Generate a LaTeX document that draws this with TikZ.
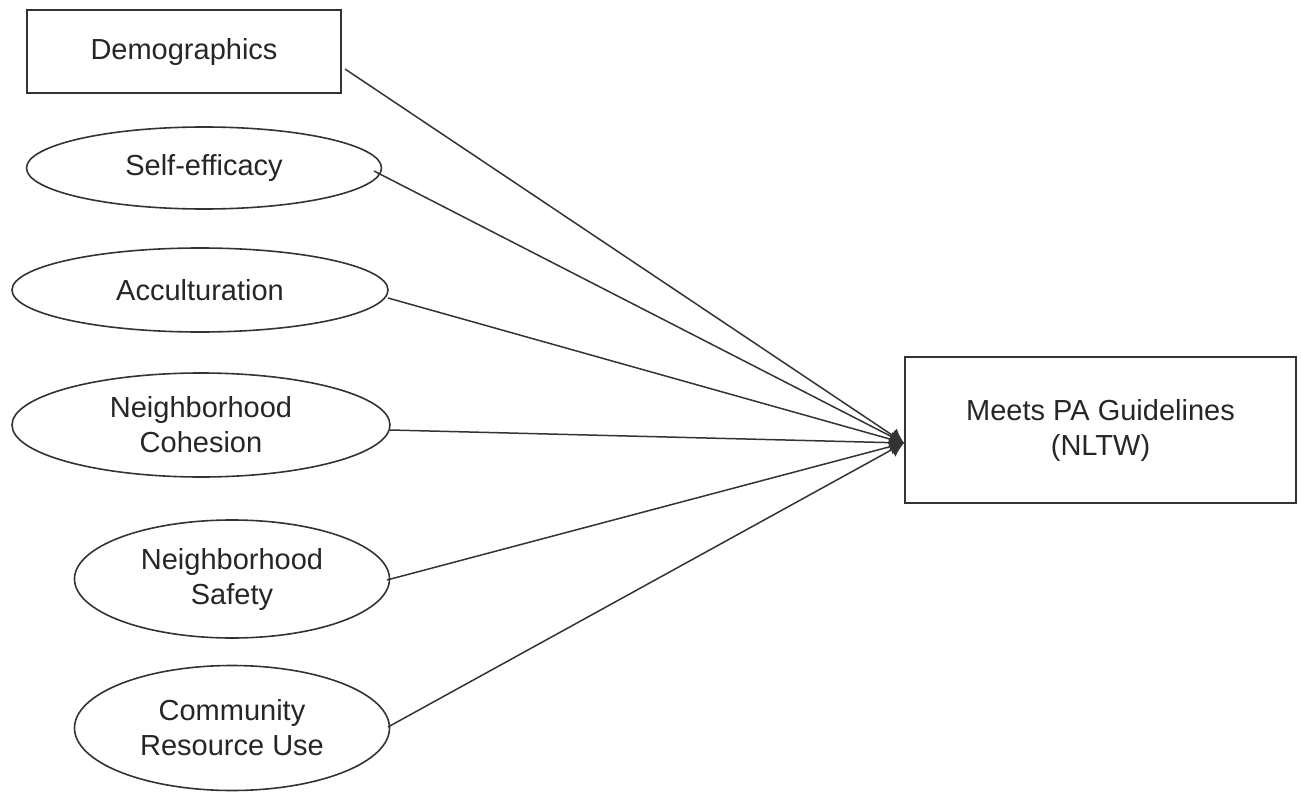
\documentclass[tikz,border=0pt]{standalone}
\usepackage{fontspec}
\setmainfont{Liberation Sans}
\usetikzlibrary{shapes.geometric,arrows.meta,calc}
\begin{document}
\begin{tikzpicture}[x=0.5pt,y=-0.5pt,
  lbl/.style={font=\fontsize{14.5}{17.5}\selectfont, align=center, text=black!85},
  boxnode/.style={lbl, draw=black!80, line width=1pt, rectangle, inner sep=0pt},
  ovalnode/.style={lbl, draw=black!80, line width=0.8pt, ellipse, inner sep=0pt},
  link/.style={draw=black!80, line width=0.75pt, -{Latex[length=7pt,width=8pt]}}]
\useasboundingbox (0,0) rectangle (1302,792);
\node[boxnode, minimum width=157pt, minimum height=41.5pt] (demo) at (184,52) {Demographics};
\node[ovalnode, minimum width=177.5pt, minimum height=41pt] (se) at (204,168) {Self-efficacy};
\node[ovalnode, minimum width=188pt, minimum height=42pt] (acc) at (200,290) {Acculturation};
\node[ovalnode, minimum width=189pt, minimum height=52pt] (coh) at (201,425) {Neighborhood\\Cohesion};
\node[ovalnode, minimum width=157.5pt, minimum height=59pt] (saf) at (232,579) {Neighborhood\\Safety};
\node[ovalnode, minimum width=157.5pt, minimum height=62.5pt] (com) at (232,728) {Community\\Resource Use};
\node[boxnode, minimum width=195.5pt, minimum height=73pt] (pa) at (1100.5,430) {Meets PA Guidelines\\(NLTW)};
\coordinate (tip) at ($(pa.west)+(0,13)$);
\coordinate (s1) at (345,69);
\coordinate (s2) at (374,171);
\coordinate (s3) at (388,298);
\coordinate (s4) at (390,430);
\coordinate (s5) at (387,580);
\coordinate (s6) at (388,727);
\foreach \s in {s1,s2,s3,s4,s5,s6} {\draw[link] (\s) -- (tip);}
\end{tikzpicture}
\end{document}
